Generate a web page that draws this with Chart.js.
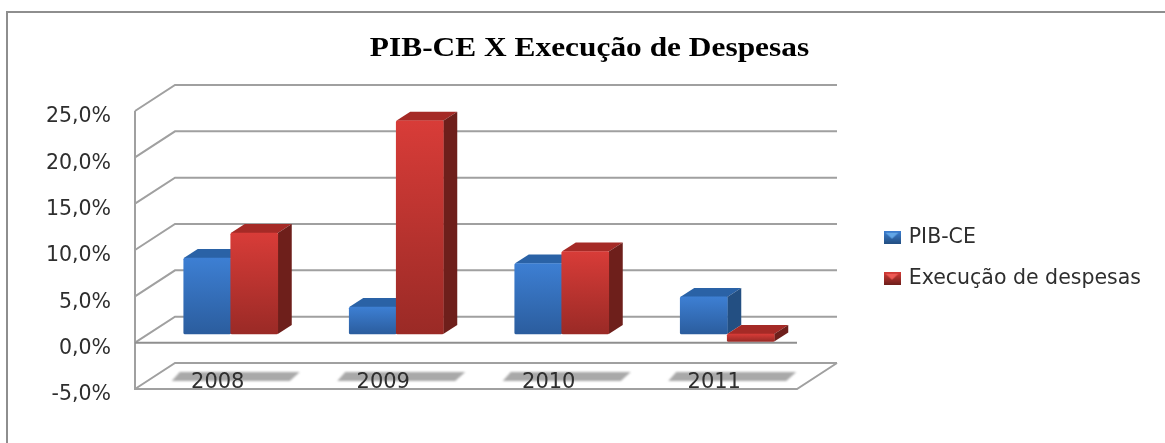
<!DOCTYPE html>
<html><head><meta charset="utf-8">
<style>html,body{margin:0;padding:0;background:#fff;overflow:hidden}canvas{display:block;filter:blur(.45px)}</style>
<script src="https://cdn.jsdelivr.net/npm/chart.js@4"></script>
</head><body><canvas id="c" width="1165" height="443"></canvas>
<script>
const categories = ['2008','2009','2010','2011'];
const pibCE = [8.2, 2.9, 7.6, 4.0];
const execucao = [10.9, 23.0, 8.9, -0.8];
const titleText = 'PIB-CE X Execução de Despesas';
const seriesNames = ['PIB-CE','Execução de despesas'];

const WALL = {x:40, y:-26}, BAR_OFF = {x:13, y:-8.7}, BAR_D = {x:14, y:-9};
const GRID = '#a0a0a0', FRAME = '#8e8e8e', TEXT = '#2e2e2e';
const PAL = [
  {top:'#3d7fd3', bot:'#2b5d9e', cap:'#2a62a6', side:'#234f82', lite:'#62a6e6'},
  {top:'#d83c38', bot:'#9a2a26', cap:'#a52a26', side:'#6e1f1b', lite:'#ee5a55'}
];
const TITLE_CX = 589.5, TITLE_STRETCH = 1.18;

function marker(p){
  const c=document.createElement('canvas'); c.width=17; c.height=13;
  const g=c.getContext('2d');
  const gr=g.createLinearGradient(0,0,0,13); gr.addColorStop(0,p.top); gr.addColorStop(1,p.side);
  g.fillStyle=gr; g.fillRect(0,0,17,13);
  g.fillStyle=p.lite; g.beginPath(); g.moveTo(2,2); g.lineTo(15,2); g.lineTo(8.5,8); g.closePath(); g.fill();
  return c;
}
const markers=PAL.map(marker);

function poly(ctx,pts,fill){ctx.fillStyle=fill;ctx.beginPath();pts.forEach((p,i)=>i?ctx.lineTo(p[0],p[1]):ctx.moveTo(p[0],p[1]));ctx.closePath();ctx.fill();}

const scene = {
  id:'scene',
  beforeLayout(chart){
    const lg=chart.legend;
    if(lg && !lg._wrapped){
      const f=lg.fit;
      lg.fit=function(){f.call(this);this.width=368;};
      lg._wrapped=true;
    }
    const tb=chart.titleBlock;
    if(tb && !tb._wrapped){
      const d=tb.draw;
      tb.draw=function(){
        const c=this.ctx;
        c.save();
        c.translate(TITLE_CX,0);c.scale(TITLE_STRETCH,1);c.translate(-TITLE_CX,0);
        d.call(this);
        c.restore();
      };
      tb._wrapped=true;
    }
  },
  afterLayout(chart){
    chart.titleBlock.left=14;
    const lg=chart.legend;
    lg.left=885.5-lg.options.labels.padding; lg.right=1165; lg.top=227-lg.options.labels.padding; lg.bottom=320;
  },
  beforeDraw(chart){
    const {ctx,scales:{x,y}}=chart, a=chart.chartArea;
    ctx.save();
    ctx.strokeStyle=FRAME; ctx.lineWidth=2;
    ctx.beginPath();ctx.moveTo(7,443);ctx.lineTo(7,12);ctx.lineTo(1165,12);ctx.stroke();
    ctx.strokeStyle=GRID; ctx.lineWidth=2;
    y.ticks.forEach(t=>{
      const py=y.getPixelForValue(t.value);
      ctx.beginPath();
      ctx.moveTo(a.left,py);ctx.lineTo(a.left+WALL.x,py+WALL.y);ctx.lineTo(a.right+WALL.x,py+WALL.y);
      ctx.stroke();
    });
    ctx.beginPath();ctx.moveTo(a.left,a.top);ctx.lineTo(a.left,a.bottom);ctx.lineTo(a.right,a.bottom);ctx.lineTo(a.right+WALL.x,a.bottom+WALL.y);ctx.stroke();
    const z=y.getPixelForValue(0);
    ctx.beginPath();ctx.moveTo(a.left,z);ctx.lineTo(a.right,z);ctx.strokeStyle='#8f8f8f';ctx.stroke();
    ctx.filter='blur(1.2px)';
    categories.forEach((c,i)=>{
      const cx=x.getPixelForValue(i), t=a.bottom-17, b=a.bottom-8;
      poly(ctx,[[cx-38,t],[cx+82,t],[cx+72,b],[cx-46,b]],'#a9a9a9');
    });
    ctx.filter='none';
    ctx.restore();
  },
  beforeDatasetsDraw(chart){
    const ctx=chart.ctx;
    ctx.save();
    ctx.translate(BAR_OFF.x,BAR_OFF.y);
    [0,1].forEach(i=>{
      const meta=chart.getDatasetMeta(i);
      meta.data.forEach(el=>{
        const p=el.getProps(['x','y','base','width'],true);
        const l=p.x-p.width/2, r=p.x+p.width/2, t=Math.min(p.y,p.base), b=Math.max(p.y,p.base);
        const dx=BAR_D.x, dy=BAR_D.y;
        poly(ctx,[[l,t],[l+dx,t+dy],[r+dx,t+dy],[r,t]],PAL[i].cap);
        poly(ctx,[[r,t],[r+dx,t+dy],[r+dx,b+dy],[r,b]],PAL[i].side);
      });
      meta.controller.draw();
    });
    ctx.restore();
    return false;
  }
};

function faceFill(i){
  return c=>{
    const chart=c.chart, s=chart.scales.y;
    if(!s || c.raw===undefined) return PAL[i].top;
    const top=s.getPixelForValue(Math.max(c.raw,0)), bot=s.getPixelForValue(Math.min(c.raw,0));
    const g=chart.ctx.createLinearGradient(0,top,0,bot);
    g.addColorStop(0,PAL[i].top); g.addColorStop(1,PAL[i].bot);
    return g;
  };
}

new Chart(document.getElementById('c'),{
  type:'bar',
  data:{labels:categories,datasets:[
    {label:seriesNames[0],data:pibCE,backgroundColor:faceFill(0),clip:false,borderRadius:1.5,borderSkipped:false},
    {label:seriesNames[1],data:execucao,backgroundColor:faceFill(1),clip:false,borderRadius:1.5,borderSkipped:false}
  ]},
  plugins:[scene],
  options:{
    responsive:false,animation:false,
    layout:{padding:0},
    datasets:{bar:{barThickness:47}},
    scales:{
      x:{
        grid:{display:false,drawTicks:false},border:{display:false},
        afterFit:s=>{s.height=54;},
        ticks:{autoSkip:false,maxRotation:0,mirror:true,padding:-6,color:TEXT,font:{family:'DejaVu Sans',size:21}}
      },
      y:{
        min:-5,max:25,
        grid:{display:false,drawTicks:false},border:{display:false},
        afterFit:s=>{s.width=135;},
        ticks:{stepSize:5,padding:24,labelOffset:6,color:TEXT,font:{family:'DejaVu Sans',size:20.5},
          callback:v=>v.toFixed(1).replace('.',',')+'%'}
      }
    },
    plugins:{
      tooltip:{enabled:false},
      title:{display:true,text:titleText,color:'#000',padding:{top:34,bottom:45.9},
        font:{family:'Liberation Serif',size:26.6,weight:'bold',lineHeight:1.17}},
      legend:{position:'right',align:'start',
        labels:{usePointStyle:true,boxWidth:13,padding:20.5,color:TEXT,font:{family:'DejaVu Sans',size:20.5},
          generateLabels:c=>c.data.datasets.map((d,i)=>({text:d.label,pointStyle:markers[i],datasetIndex:i,fontColor:TEXT,hidden:false,lineWidth:0}))}
      }
    }
  }
});
</script></body></html>
